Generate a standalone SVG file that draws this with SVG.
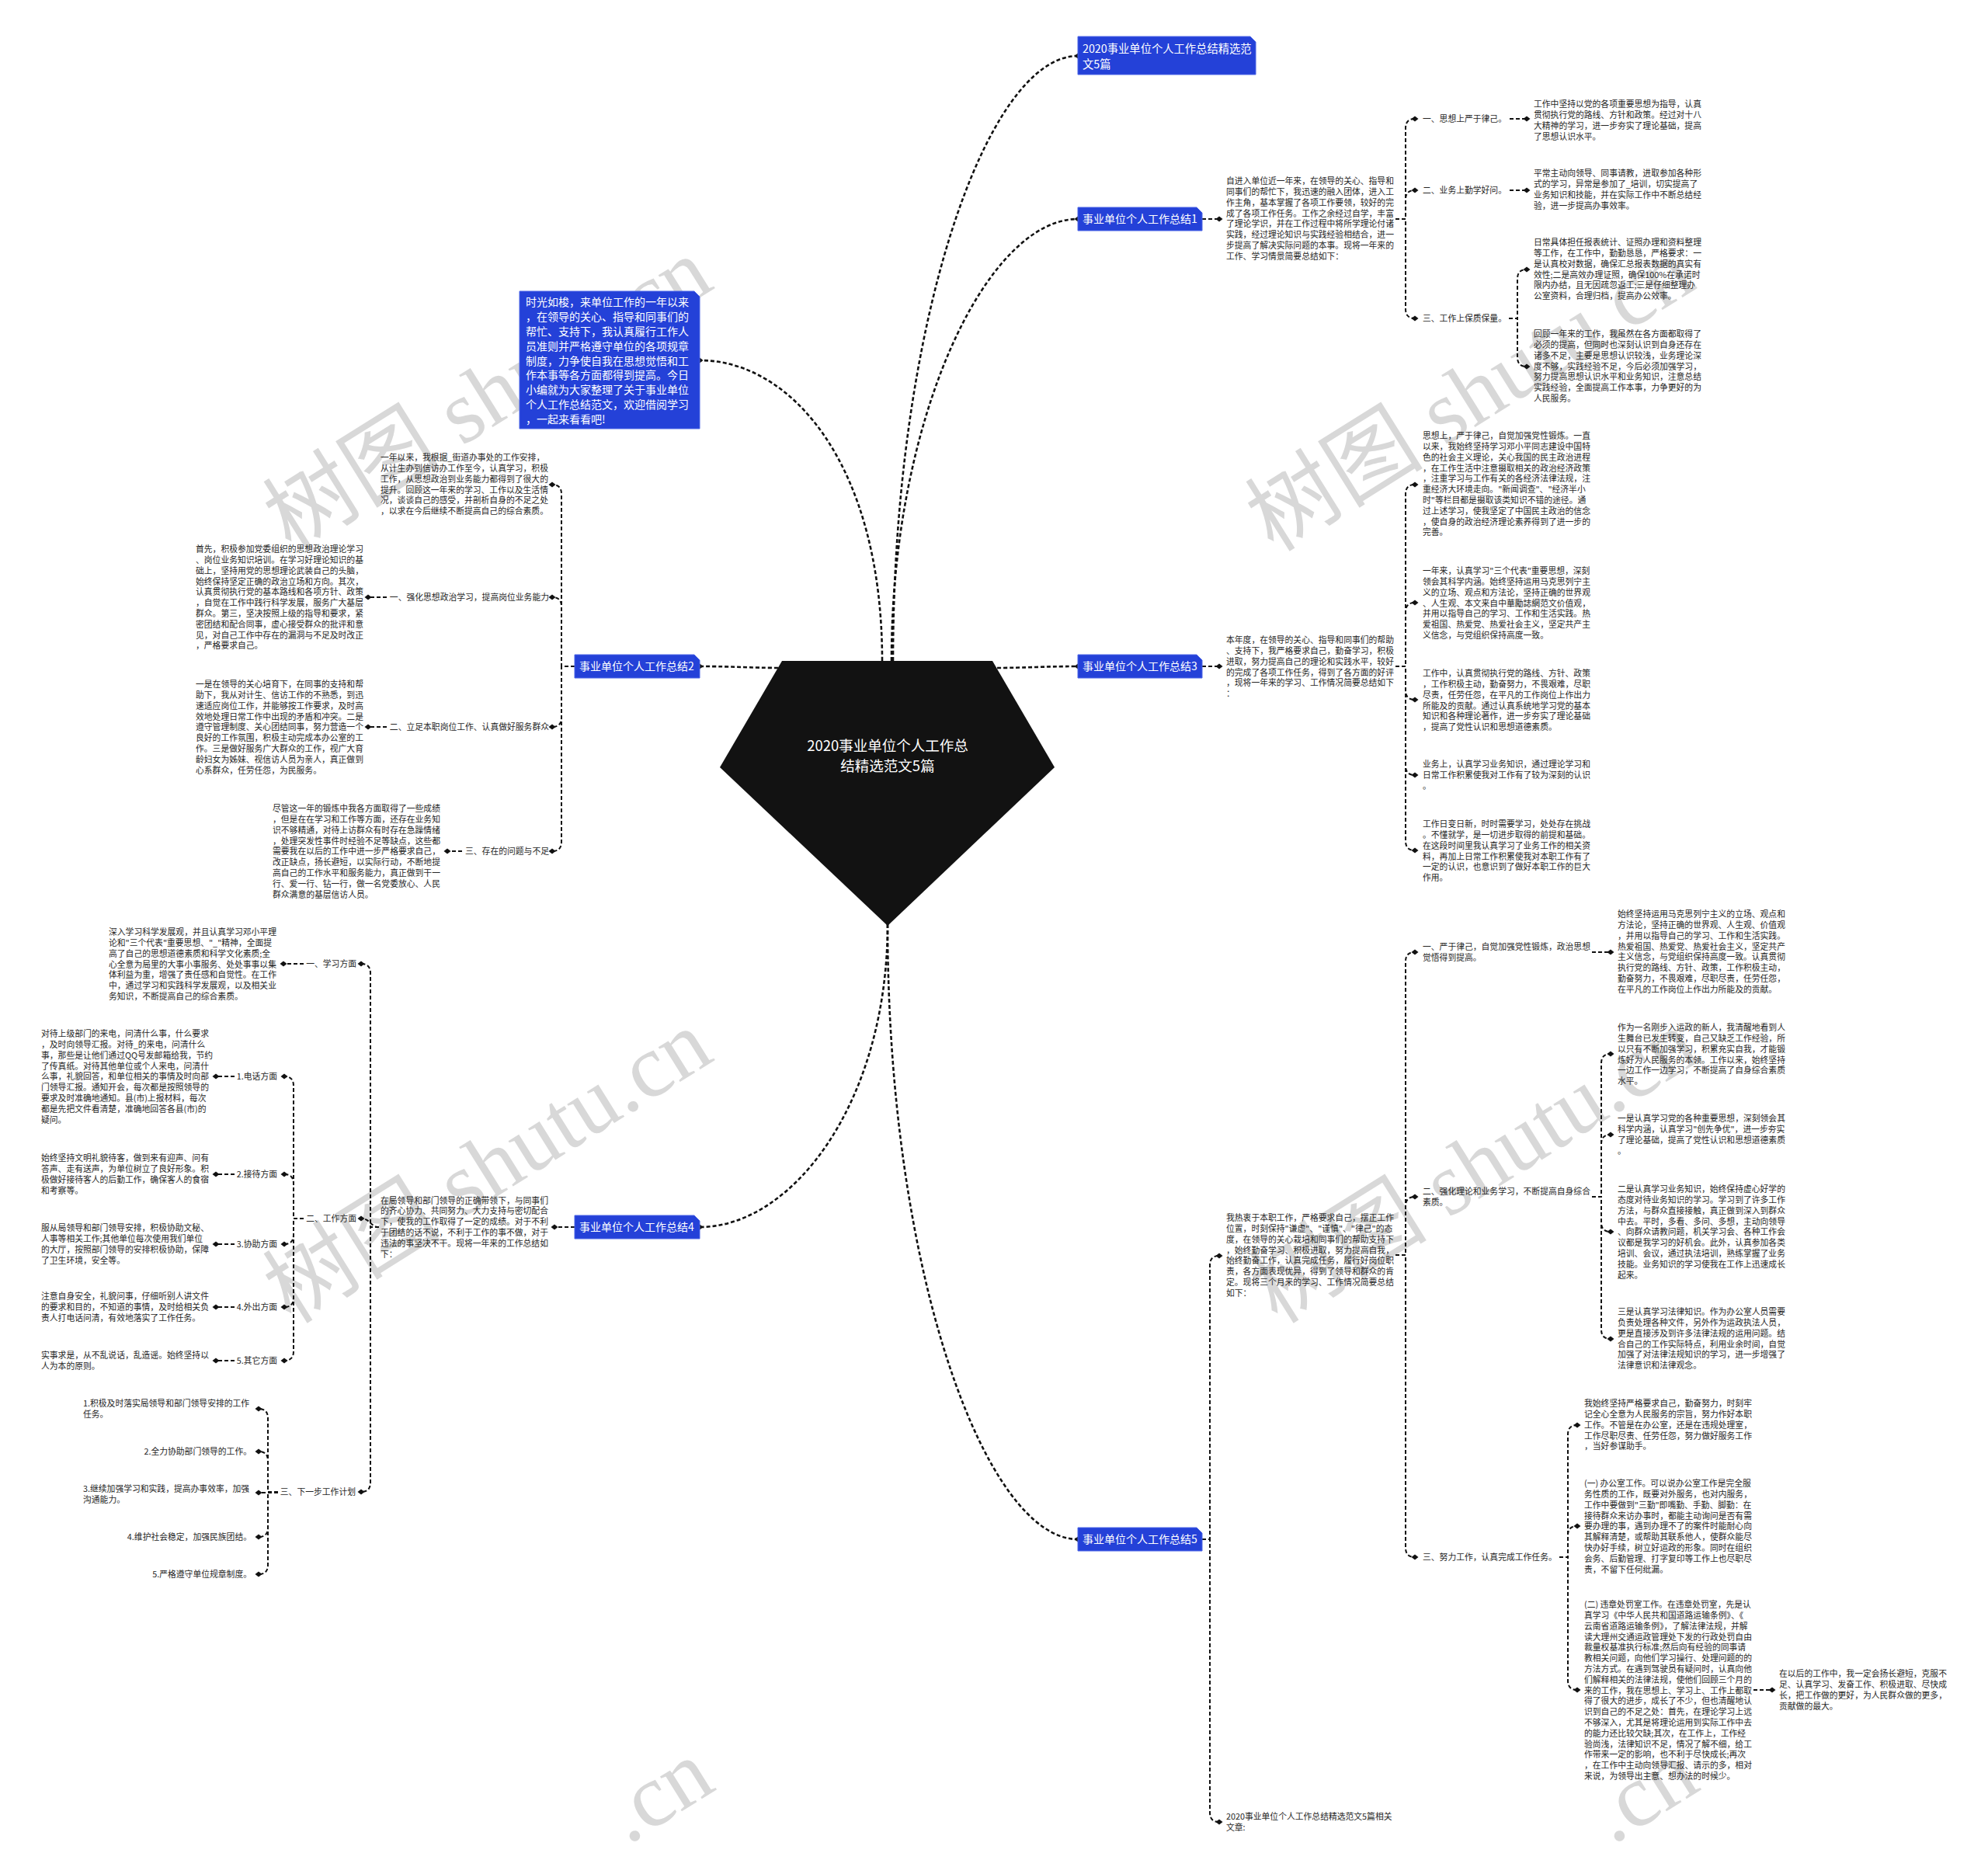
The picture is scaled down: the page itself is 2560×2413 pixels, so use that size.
<svg xmlns="http://www.w3.org/2000/svg" width="2560" height="2413" viewBox="0 0 2560 2413">
<style>
.t{font-family:"Noto Sans CJK SC","Liberation Sans",sans-serif;font-size:10.8px;fill:#262626}
.w{font-family:"Noto Sans CJK SC","Liberation Sans",sans-serif;fill:#ffffff}
.nb{fill:#2441d8;stroke:#4a64e6;stroke-width:1}
.c{fill:none;stroke:#111;stroke-width:2;stroke-dasharray:5 3;marker-end:url(#d)}
.cm{stroke-width:2.6}
.wm{font-family:"Liberation Serif","Noto Sans CJK SC",serif;font-size:115px;fill:#d8d8d8}
</style>
<defs>
<marker id="d" viewBox="-5 -5 10 10" refX="0" refY="0" markerWidth="10" markerHeight="10" markerUnits="userSpaceOnUse" orient="auto"><path d="M-4.5 0 L0 -3.6 L4.5 0 L0 3.6 Z" fill="#111"/></marker>
</defs>
<rect width="2560" height="2413" fill="#ffffff"/>
<g id="watermarks">
<text class="wm" transform="translate(375 712) rotate(-32)">树图 shutu.cn</text>
<text class="wm" transform="translate(1640 712) rotate(-32)">树图 shutu.cn</text>
<text class="wm" transform="translate(375 1706) rotate(-32)">树图 shutu.cn</text>
<text class="wm" transform="translate(1645 1706) rotate(-32)">树图 shutu.cn</text>
<text class="wm" transform="translate(808 2376) rotate(-32)">.cn</text>
<text class="wm" transform="translate(2076 2376) rotate(-32)">.cn</text>
</g>
<g id="connectors">
<path class="c cm" d="M1150 851 C1150 420 1270 72 1388 72"/>
<path class="c cm" d="M1148 851 C1148 540 1270 282 1388 282"/>
<path class="c cm" d="M1136 851 C1136 600 1020 464 901 464"/>
<path class="c cm" d="M1010 860 C960 860 950 858 901 858"/>
<path class="c cm" d="M1276 860 C1326 860 1340 858 1388 858"/>
<path class="c cm" d="M1143 1190 C1143 1420 1020 1580 901 1580"/>
<path class="c cm" d="M1143 1190 C1143 1640 1270 1982 1388 1982"/>
<path class="c" d="M1548 282 H1570"/>
<path class="c" d="M1797 282 H1810 V165 Q1810 153 1822 153"/>
<path class="c" d="M1797 282 H1810 V257 Q1810 245 1822 245"/>
<path class="c" d="M1797 282 H1810 V398 Q1810 410 1822 410"/>
<path class="c" d="M1944 153 H1966"/>
<path class="c" d="M1944 245 H1966"/>
<path class="c" d="M1943 410 H1954 V359 Q1954 347 1966 347"/>
<path class="c" d="M1943 410 H1954 V460 Q1954 472 1966 472"/>
<path class="c" d="M1548 858 H1570"/>
<path class="c" d="M1797 858 H1810 V636 Q1810 624 1822 624"/>
<path class="c" d="M1797 858 H1810 V788 Q1810 776 1822 776"/>
<path class="c" d="M1797 858 H1810 V889 Q1810 901 1822 901"/>
<path class="c" d="M1797 858 H1810 V986 Q1810 998 1822 998"/>
<path class="c" d="M1797 858 H1810 V1083 Q1810 1095 1822 1095"/>
<path class="c" d="M1548 1982 H1558 V1629 Q1558 1617 1570 1617"/>
<path class="c" d="M1548 1982 H1558 V2334 Q1558 2346 1570 2346"/>
<path class="c" d="M1797 1616 H1810 V1238 Q1810 1226 1822 1226"/>
<path class="c" d="M1797 1616 H1810 V1553 Q1810 1541 1822 1541"/>
<path class="c" d="M1797 1616 H1810 V1993 Q1810 2005 1822 2005"/>
<path class="c" d="M2050 1226 H2074"/>
<path class="c" d="M2050 1541 H2062 V1369 Q2062 1357 2074 1357"/>
<path class="c" d="M2050 1541 H2062 V1473 Q2062 1461 2074 1461"/>
<path class="c" d="M2050 1541 H2062 V1574 Q2062 1586 2074 1586"/>
<path class="c" d="M2050 1541 H2062 V1712 Q2062 1724 2074 1724"/>
<path class="c" d="M2008 2005 H2019 V1847 Q2019 1835 2031 1835"/>
<path class="c" d="M2008 2005 H2019 V1977 Q2019 1965 2031 1965"/>
<path class="c" d="M2008 2005 H2019 V2164 Q2019 2176 2031 2176"/>
<path class="c" d="M2258 2176 H2282"/>
<path class="c" d="M740 858 H723 V636 Q723 624 711 624"/>
<path class="c" d="M740 858 H723 V781 Q723 769 711 769"/>
<path class="c" d="M740 858 H723 V924 Q723 936 711 936"/>
<path class="c" d="M740 858 H723 V1084 Q723 1096 711 1096"/>
<path class="c" d="M498 769 H474"/>
<path class="c" d="M498 936 H474"/>
<path class="c" d="M595 1096 H576"/>
<path class="c" d="M740 1580 H714"/>
<path class="c" d="M488 1580 H477 V1253 Q477 1241 465 1241"/>
<path class="c" d="M488 1580 C477 1580 477 1569 465 1569"/>
<path class="c" d="M488 1580 H477 V1909 Q477 1921 465 1921"/>
<path class="c" d="M391 1241 H365"/>
<path class="c" d="M391 1569 H378 V1398 Q378 1386 366 1386"/>
<path class="c" d="M391 1569 H378 V1524 Q378 1512 366 1512"/>
<path class="c" d="M391 1569 H378 V1590 Q378 1602 366 1602"/>
<path class="c" d="M391 1569 H378 V1671 Q378 1683 366 1683"/>
<path class="c" d="M391 1569 H378 V1740 Q378 1752 366 1752"/>
<path class="c" d="M302 1386 H278"/>
<path class="c" d="M302 1512 H278"/>
<path class="c" d="M302 1602 H278"/>
<path class="c" d="M302 1683 H278"/>
<path class="c" d="M302 1752 H278"/>
<path class="c" d="M358 1921 H345 V1826 Q345 1814 333 1814"/>
<path class="c" d="M358 1921 H345 V1881 Q345 1869 333 1869"/>
<path class="c" d="M358 1922 H333"/>
<path class="c" d="M358 1921 H345 V1967 Q345 1979 333 1979"/>
<path class="c" d="M358 1921 H345 V2015 Q345 2027 333 2027"/>
</g>
<g id="root">
<path d="M1007 851 H1278 L1358 988 L1143 1192 L927 988 Z" fill="#121212"/>
<text class="w" font-size="18.5" text-anchor="middle"><tspan x="1143" y="967">2020事业单位个人工作总</tspan><tspan x="1143" y="993">结精选范文5篇</tspan></text>
</g>
<g id="title">
<path class="nb" d="M1388 47 H1610 L1617 54 V96 H1388 Z"/>
<text class="w" font-size="14.3"><tspan x="1394" y="67.5">2020事业单位个人工作总结精选范</tspan><tspan x="1394" y="87.5">文5篇</tspan></text>
</g>
<g id="n1">
<path class="nb" d="M1388 267 H1541 L1548 274 V297 H1388 Z"/>
<text class="w" font-size="14" x="1394" y="287">事业单位个人工作总结1</text>
</g>
<g id="n1-desc"><text class="t" y="237.1"><tspan x="1579">自进入单位近一年来，在领导的关心、指导和</tspan><tspan x="1579" dy="13.8">同事们的帮忙下，我迅速的融入团体，进入工</tspan><tspan x="1579" dy="13.8">作主角，基本掌握了各项工作要领，较好的完</tspan><tspan x="1579" dy="13.8">成了各项工作任务。工作之余经过自学，丰富</tspan><tspan x="1579" dy="13.8">了理论学识，并在工作过程中将所学理论付诸</tspan><tspan x="1579" dy="13.8">实践，经过理论知识与实践经验相结合，进一</tspan><tspan x="1579" dy="13.8">步提高了解决实际问题的本事。现将一年来的</tspan><tspan x="1579" dy="13.8">工作、学习情景简要总结如下：</tspan></text></g>
<g id="n1-l1"><text class="t" x="1832" y="157.1">一、思想上严于律己。</text></g>
<g id="n1-l2"><text class="t" x="1832" y="249.1">二、业务上勤学好问。</text></g>
<g id="n1-l3"><text class="t" x="1832" y="414.1">三、工作上保质保量。</text></g>
<g id="n1-l1-a"><text class="t" y="138.1"><tspan x="1975">工作中坚持以党的各项重要思想为指导，认真</tspan><tspan x="1975" dy="13.8">贯彻执行党的路线、方针和政策。经过对十八</tspan><tspan x="1975" dy="13.8">大精神的学习，进一步夯实了理论基础，提高</tspan><tspan x="1975" dy="13.8">了思想认识水平。</tspan></text></g>
<g id="n1-l2-a"><text class="t" y="227.1"><tspan x="1975">平常主动向领导、同事请教，进取参加各种形</tspan><tspan x="1975" dy="13.8">式的学习，异常是参加了_培训，切实提高了</tspan><tspan x="1975" dy="13.8">业务知识和技能，并在实际工作中不断总结经</tspan><tspan x="1975" dy="13.8">验，进一步提高办事效率。</tspan></text></g>
<g id="n1-l3-a"><text class="t" y="316.1"><tspan x="1975">日常具体担任报表统计、证照办理和资料整理</tspan><tspan x="1975" dy="13.8">等工作，在工作中，勤勤恳恳，严格要求：一</tspan><tspan x="1975" dy="13.8">是认真校对数据，确保汇总报表数据的真实有</tspan><tspan x="1975" dy="13.8">效性;二是高效办理证照，确保100%在承诺时</tspan><tspan x="1975" dy="13.8">限内办结，且无因疏忽返工;三是仔细整理办</tspan><tspan x="1975" dy="13.8">公室资料，合理归档，提高办公效率。</tspan></text></g>
<g id="n1-l3-b"><text class="t" y="434.1"><tspan x="1975">回顾一年来的工作，我虽然在各方面都取得了</tspan><tspan x="1975" dy="13.8">必须的提高，但同时也深刻认识到自身还存在</tspan><tspan x="1975" dy="13.8">诸多不足，主要是思想认识较浅，业务理论深</tspan><tspan x="1975" dy="13.8">度不够，实践经验不足，今后必须加强学习，</tspan><tspan x="1975" dy="13.8">努力提高思想认识水平和业务知识，注意总结</tspan><tspan x="1975" dy="13.8">实践经验，全面提高工作本事，力争更好的为</tspan><tspan x="1975" dy="13.8">人民服务。</tspan></text></g>
<g id="n3">
<path class="nb" d="M1388 843 H1541 L1548 850 V873 H1388 Z"/>
<text class="w" font-size="14" x="1394" y="863">事业单位个人工作总结3</text>
</g>
<g id="n3-desc"><text class="t" y="828.1"><tspan x="1579">本年度，在领导的关心、指导和同事们的帮助</tspan><tspan x="1579" dy="13.8">、支持下，我严格要求自己，勤奋学习，积极</tspan><tspan x="1579" dy="13.8">进取，努力提高自己的理论和实践水平，较好</tspan><tspan x="1579" dy="13.8">的完成了各项工作任务，得到了各方面的好评</tspan><tspan x="1579" dy="13.8">，现将一年来的学习、工作情况简要总结如下</tspan><tspan x="1579" dy="13.8">：</tspan></text></g>
<g id="n3-a"><text class="t" y="565.1"><tspan x="1832">思想上，严于律己，自觉加强党性锻炼。一直</tspan><tspan x="1832" dy="13.8">以来，我始终坚持学习邓小平同志建设中国特</tspan><tspan x="1832" dy="13.8">色的社会主义理论，关心我国的民主政治进程</tspan><tspan x="1832" dy="13.8">，在工作生活中注意摄取相关的政治经济政策</tspan><tspan x="1832" dy="13.8">，注重学习与工作有关的各经济法律法规，注</tspan><tspan x="1832" dy="13.8">重经济大环境走向。"新闻调查"、"经济半小</tspan><tspan x="1832" dy="13.8">时"等栏目都是摄取该类知识不错的途径。通</tspan><tspan x="1832" dy="13.8">过上述学习，使我坚定了中国民主政治的信念</tspan><tspan x="1832" dy="13.8">，使自身的政治经济理论素养得到了进一步的</tspan><tspan x="1832" dy="13.8">完善。</tspan></text></g>
<g id="n3-b"><text class="t" y="739.1"><tspan x="1832">一年来，认真学习"三个代表"重要思想，深刻</tspan><tspan x="1832" dy="13.8">领会其科学内涵。始终坚持运用马克思列宁主</tspan><tspan x="1832" dy="13.8">义的立场、观点和方法论，坚持正确的世界观</tspan><tspan x="1832" dy="13.8">、人生观、本文来自中華勵誌網范文价值观，</tspan><tspan x="1832" dy="13.8">并用以指导自己的学习、工作和生活实践。热</tspan><tspan x="1832" dy="13.8">爱祖国、热爱党、热爱社会主义，坚定共产主</tspan><tspan x="1832" dy="13.8">义信念，与党组织保持高度一致。</tspan></text></g>
<g id="n3-c"><text class="t" y="871.1"><tspan x="1832">工作中，认真贯彻执行党的路线、方针、政策</tspan><tspan x="1832" dy="13.8">，工作积极主动，勤奋努力，不畏艰难，尽职</tspan><tspan x="1832" dy="13.8">尽责，任劳任怨，在平凡的工作岗位上作出力</tspan><tspan x="1832" dy="13.8">所能及的贡献。通过认真系统地学习党的基本</tspan><tspan x="1832" dy="13.8">知识和各种理论著作，进一步夯实了理论基础</tspan><tspan x="1832" dy="13.8">，提高了党性认识和思想道德素质。</tspan></text></g>
<g id="n3-d"><text class="t" y="988.1"><tspan x="1832">业务上，认真学习业务知识，通过理论学习和</tspan><tspan x="1832" dy="13.8">日常工作积累使我对工作有了较为深刻的认识</tspan><tspan x="1832" dy="13.8">。</tspan></text></g>
<g id="n3-e"><text class="t" y="1065.1"><tspan x="1832">工作日变日新，时时需要学习，处处存在挑战</tspan><tspan x="1832" dy="13.8">。不懂就学，是一切进步取得的前提和基础。</tspan><tspan x="1832" dy="13.8">在这段时间里我认真学习了业务工作的相关资</tspan><tspan x="1832" dy="13.8">料，再加上日常工作积累使我对本职工作有了</tspan><tspan x="1832" dy="13.8">一定的认识，也意识到了做好本职工作的巨大</tspan><tspan x="1832" dy="13.8">作用。</tspan></text></g>
<g id="n5">
<path class="nb" d="M1388 1967 H1541 L1548 1974 V1997 H1388 Z"/>
<text class="w" font-size="14" x="1394" y="1987">事业单位个人工作总结5</text>
</g>
<g id="n5-desc"><text class="t" y="1572.1"><tspan x="1579">我热衷于本职工作，严格要求自己，摆正工作</tspan><tspan x="1579" dy="13.8">位置，时刻保持"谦虚"、"谨慎"、"律己"的态</tspan><tspan x="1579" dy="13.8">度，在领导的关心栽培和同事们的帮助支持下</tspan><tspan x="1579" dy="13.8">，始终勤奋学习、积极进取，努力提高自我，</tspan><tspan x="1579" dy="13.8">始终勤奋工作，认真完成任务，履行好岗位职</tspan><tspan x="1579" dy="13.8">责，各方面表现优异，得到了领导和群众的肯</tspan><tspan x="1579" dy="13.8">定。现将三个月来的学习、工作情况简要总结</tspan><tspan x="1579" dy="13.8">如下：</tspan></text></g>
<g id="n5-related"><text class="t" y="2343.1"><tspan x="1579">2020事业单位个人工作总结精选范文5篇相关</tspan><tspan x="1579" dy="13.8">文章:</tspan></text></g>
<g id="n5-l1"><text class="t" y="1223.1"><tspan x="1832">一、严于律己，自觉加强党性锻炼，政治思想</tspan><tspan x="1832" dy="13.8">觉悟得到提高。</tspan></text></g>
<g id="n5-l2"><text class="t" y="1538.1"><tspan x="1832">二、强化理论和业务学习，不断提高自身综合</tspan><tspan x="1832" dy="13.8">素质。</tspan></text></g>
<g id="n5-l3"><text class="t" x="1832" y="2009.1">三、努力工作，认真完成工作任务。</text></g>
<g id="n5-l1-a"><text class="t" y="1181.1"><tspan x="2083">始终坚持运用马克思列宁主义的立场、观点和</tspan><tspan x="2083" dy="13.8">方法论，坚持正确的世界观、人生观、价值观</tspan><tspan x="2083" dy="13.8">，并用以指导自己的学习、工作和生活实践。</tspan><tspan x="2083" dy="13.8">热爱祖国、热爱党、热爱社会主义，坚定共产</tspan><tspan x="2083" dy="13.8">主义信念，与党组织保持高度一致。认真贯彻</tspan><tspan x="2083" dy="13.8">执行党的路线、方针、政策，工作积极主动，</tspan><tspan x="2083" dy="13.8">勤奋努力，不畏艰难，尽职尽责，任劳任怨，</tspan><tspan x="2083" dy="13.8">在平凡的工作岗位上作出力所能及的贡献。</tspan></text></g>
<g id="n5-l2-a"><text class="t" y="1327.1"><tspan x="2083">作为一名刚步入运政的新人，我清醒地看到人</tspan><tspan x="2083" dy="13.8">生舞台已发生转变，自己又缺乏工作经验，所</tspan><tspan x="2083" dy="13.8">以只有不断加强学习，积累充实自我，才能锻</tspan><tspan x="2083" dy="13.8">炼好为人民服务的本领。工作以来，始终坚持</tspan><tspan x="2083" dy="13.8">一边工作一边学习，不断提高了自身综合素质</tspan><tspan x="2083" dy="13.8">水平。</tspan></text></g>
<g id="n5-l2-b"><text class="t" y="1444.1"><tspan x="2083">一是认真学习党的各种重要思想，深刻领会其</tspan><tspan x="2083" dy="13.8">科学内涵，认真学习"创先争优"，进一步夯实</tspan><tspan x="2083" dy="13.8">了理论基础，提高了党性认识和思想道德素质</tspan><tspan x="2083" dy="13.8">。</tspan></text></g>
<g id="n5-l2-c"><text class="t" y="1535.1"><tspan x="2083">二是认真学习业务知识，始终保持虚心好学的</tspan><tspan x="2083" dy="13.8">态度对待业务知识的学习。学习到了许多工作</tspan><tspan x="2083" dy="13.8">方法，与群众直接接触，真正做到深入到群众</tspan><tspan x="2083" dy="13.8">中去。平时，多看、多问、多想，主动向领导</tspan><tspan x="2083" dy="13.8">、向群众请教问题，机关学习会、各种工作会</tspan><tspan x="2083" dy="13.8">议都是我学习的好机会。此外，认真参加各类</tspan><tspan x="2083" dy="13.8">培训、会议，通过执法培训，熟练掌握了业务</tspan><tspan x="2083" dy="13.8">技能。业务知识的学习使我在工作上迅速成长</tspan><tspan x="2083" dy="13.8">起来。</tspan></text></g>
<g id="n5-l2-d"><text class="t" y="1693.1"><tspan x="2083">三是认真学习法律知识。作为办公室人员需要</tspan><tspan x="2083" dy="13.8">负责处理各种文件，另外作为运政执法人员，</tspan><tspan x="2083" dy="13.8">更是直接涉及到许多法律法规的运用问题。结</tspan><tspan x="2083" dy="13.8">合自己的工作实际特点，利用业余时间，自觉</tspan><tspan x="2083" dy="13.8">加强了对法律法规知识的学习，进一步增强了</tspan><tspan x="2083" dy="13.8">法律意识和法律观念。</tspan></text></g>
<g id="n5-l3-a"><text class="t" y="1811.1"><tspan x="2040">我始终坚持严格要求自己，勤奋努力，时刻牢</tspan><tspan x="2040" dy="13.8">记全心全意为人民服务的宗旨，努力作好本职</tspan><tspan x="2040" dy="13.8">工作。不管是在办公室，还是在违规处理室，</tspan><tspan x="2040" dy="13.8">工作尽职尽责、任劳任怨，努力做好服务工作</tspan><tspan x="2040" dy="13.8">，当好参谋助手。</tspan></text></g>
<g id="n5-l3-b"><text class="t" y="1914.1"><tspan x="2040">(一) 办公室工作。可以说办公室工作是完全服</tspan><tspan x="2040" dy="13.8">务性质的工作，既要对外服务，也对内服务，</tspan><tspan x="2040" dy="13.8">工作中要做到"三勤"即嘴勤、手勤、脚勤：在</tspan><tspan x="2040" dy="13.8">接待群众来访办事时，都能主动询问是否有需</tspan><tspan x="2040" dy="13.8">要办理的事，遇到办理不了的案件时能耐心向</tspan><tspan x="2040" dy="13.8">其解释清楚，或帮助其联系他人，使群众能尽</tspan><tspan x="2040" dy="13.8">快办好手续，树立好运政的形象。同时在组织</tspan><tspan x="2040" dy="13.8">会务、后勤管理、打字复印等工作上也尽职尽</tspan><tspan x="2040" dy="13.8">责，不留下任何纰漏。</tspan></text></g>
<g id="n5-l3-c"><text class="t" y="2070.1"><tspan x="2040">(二) 违章处罚室工作。在违章处罚室，先是认</tspan><tspan x="2040" dy="13.8">真学习《中华人民共和国道路运输条例》、《</tspan><tspan x="2040" dy="13.8">云南省道路运输条例》，了解法律法规，并解</tspan><tspan x="2040" dy="13.8">读大理州交通运政管理处下发的行政处罚自由</tspan><tspan x="2040" dy="13.8">裁量权基准执行标准;然后向有经验的同事请</tspan><tspan x="2040" dy="13.8">教相关问题，向他们学习操行、处理问题的的</tspan><tspan x="2040" dy="13.8">方法方式。在遇到驾驶员有疑问时，认真向他</tspan><tspan x="2040" dy="13.8">们解释相关的法律法规，使他们回顾三个月的</tspan><tspan x="2040" dy="13.8">来的工作，我在思想上、学习上、工作上都取</tspan><tspan x="2040" dy="13.8">得了很大的进步，成长了不少，但也清醒地认</tspan><tspan x="2040" dy="13.8">识到自己的不足之处：首先，在理论学习上远</tspan><tspan x="2040" dy="13.8">不够深入，尤其是将理论运用到实际工作中去</tspan><tspan x="2040" dy="13.8">的能力还比较欠缺;其次，在工作上，工作经</tspan><tspan x="2040" dy="13.8">验尚浅，法律知识不足，情况了解不细，给工</tspan><tspan x="2040" dy="13.8">作带来一定的影响，也不利于尽快成长;再次</tspan><tspan x="2040" dy="13.8">，在工作中主动向领导汇报、请示的多，相对</tspan><tspan x="2040" dy="13.8">来说，为领导出主意、想办法的时候少。</tspan></text></g>
<g id="n5-l3-c-a"><text class="t" y="2159.1"><tspan x="2291">在以后的工作中，我一定会扬长避短，克服不</tspan><tspan x="2291" dy="13.8">足、认真学习、发奋工作、积极进取、尽快成</tspan><tspan x="2291" dy="13.8">长，把工作做的更好，为人民群众做的更多，</tspan><tspan x="2291" dy="13.8">贡献做的最大。</tspan></text></g>
<g id="intro">
<path class="nb" d="M669 375 H894 L901 382 V552 H669 Z"/>
<text class="w" font-size="14" y="394.3"><tspan x="677">时光如梭，来单位工作的一年以来</tspan><tspan x="677" dy="18.8">，在领导的关心、指导和同事们的</tspan><tspan x="677" dy="18.8">帮忙、支持下，我认真履行工作人</tspan><tspan x="677" dy="18.8">员准则并严格遵守单位的各项规章</tspan><tspan x="677" dy="18.8">制度，力争使自我在思想觉悟和工</tspan><tspan x="677" dy="18.8">作本事等各方面都得到提高。今日</tspan><tspan x="677" dy="18.8">小编就为大家整理了关于事业单位</tspan><tspan x="677" dy="18.8">个人工作总结范文，欢迎借阅学习</tspan><tspan x="677" dy="18.8">，一起来看看吧!</tspan></text>
</g>
<g id="n2">
<path class="nb" d="M740 843 H894 L901 850 V873 H740 Z"/>
<text class="w" font-size="14" x="746" y="863">事业单位个人工作总结2</text>
</g>
<g id="n2-a"><text class="t" y="593.1"><tspan x="490">一年以来，我根据_街道办事处的工作安排，</tspan><tspan x="490" dy="13.8">从计生办到信访办工作至今，认真学习，积极</tspan><tspan x="490" dy="13.8">工作，从思想政治到业务能力都得到了很大的</tspan><tspan x="490" dy="13.8">提升。回顾这一年来的学习、工作以及生活情</tspan><tspan x="490" dy="13.8">况，谈谈自己的感受，并剖析自身的不足之处</tspan><tspan x="490" dy="13.8">，以求在今后继续不断提高自己的综合素质。</tspan></text></g>
<g id="n2-l1"><text class="t" x="707" y="773.1" text-anchor="end">一、强化思想政治学习，提高岗位业务能力</text></g>
<g id="n2-l2"><text class="t" x="707" y="940.1" text-anchor="end">二、立足本职岗位工作、认真做好服务群众</text></g>
<g id="n2-l3"><text class="t" x="707" y="1100.1" text-anchor="end">三、存在的问题与不足</text></g>
<g id="n2-l1-a"><text class="t" y="711.1"><tspan x="252">首先，积极参加党委组织的思想政治理论学习</tspan><tspan x="252" dy="13.8">、岗位业务知识培训。在学习好理论知识的基</tspan><tspan x="252" dy="13.8">础上，坚持用党的思想理论武装自己的头脑，</tspan><tspan x="252" dy="13.8">始终保持坚定正确的政治立场和方向。其次，</tspan><tspan x="252" dy="13.8">认真贯彻执行党的基本路线和各项方针、政策</tspan><tspan x="252" dy="13.8">，自觉在工作中践行科学发展，服务广大基层</tspan><tspan x="252" dy="13.8">群众。第三，坚决按照上级的指导和要求，紧</tspan><tspan x="252" dy="13.8">密团结和配合同事，虚心接受群众的批评和意</tspan><tspan x="252" dy="13.8">见，对自己工作中存在的漏洞与不足及时改正</tspan><tspan x="252" dy="13.8">，严格要求自己。</tspan></text></g>
<g id="n2-l2-a"><text class="t" y="885.1"><tspan x="252">一是在领导的关心培育下，在同事的支持和帮</tspan><tspan x="252" dy="13.8">助下，我从对计生、信访工作的不熟悉，到迅</tspan><tspan x="252" dy="13.8">速适应岗位工作，并能够按工作要求，及时高</tspan><tspan x="252" dy="13.8">效地处理日常工作中出现的矛盾和冲突。二是</tspan><tspan x="252" dy="13.8">遵守管理制度、关心团结同事，努力营造一个</tspan><tspan x="252" dy="13.8">良好的工作氛围，积极主动完成本办公室的工</tspan><tspan x="252" dy="13.8">作。三是做好服务广大群众的工作，视广大育</tspan><tspan x="252" dy="13.8">龄妇女为姊妹、视信访人员为亲人，真正做到</tspan><tspan x="252" dy="13.8">心系群众，任劳任怨，为民服务。</tspan></text></g>
<g id="n2-l3-a"><text class="t" y="1045.1"><tspan x="351">尽管这一年的锻炼中我各方面取得了一些成绩</tspan><tspan x="351" dy="13.8">，但是在在学习和工作等方面，还存在业务知</tspan><tspan x="351" dy="13.8">识不够精通，对待上访群众有时存在急躁情绪</tspan><tspan x="351" dy="13.8">，处理突发性事件时经验不足等缺点，这些都</tspan><tspan x="351" dy="13.8">需要我在以后的工作中进一步严格要求自己，</tspan><tspan x="351" dy="13.8">改正缺点，扬长避短，以实际行动，不断地提</tspan><tspan x="351" dy="13.8">高自己的工作水平和服务能力，真正做到干一</tspan><tspan x="351" dy="13.8">行、爱一行、钻一行，做一名党委放心、人民</tspan><tspan x="351" dy="13.8">群众满意的基层信访人员。</tspan></text></g>
<g id="n4">
<path class="nb" d="M740 1565 H894 L901 1572 V1595 H740 Z"/>
<text class="w" font-size="14" x="746" y="1585">事业单位个人工作总结4</text>
</g>
<g id="n4-desc"><text class="t" y="1549.6"><tspan x="490">在局领导和部门领导的正确带领下，与同事们</tspan><tspan x="490" dy="13.8">的齐心协力、共同努力、大力支持与密切配合</tspan><tspan x="490" dy="13.8">下，使我的工作取得了一定的成绩。对于不利</tspan><tspan x="490" dy="13.8">于团结的话不说，不利于工作的事不做，对于</tspan><tspan x="490" dy="13.8">违法的事坚决不干。现将一年来的工作总结如</tspan><tspan x="490" dy="13.8">下：</tspan></text></g>
<g id="n4-l1"><text class="t" x="459" y="1245.1" text-anchor="end">一、学习方面</text></g>
<g id="n4-l2"><text class="t" x="459" y="1573.1" text-anchor="end">二、工作方面</text></g>
<g id="n4-l3"><text class="t" x="458" y="1925.1" text-anchor="end">三、下一步工作计划</text></g>
<g id="n4-l1-a"><text class="t" y="1204.1"><tspan x="140">深入学习科学发展观，并且认真学习邓小平理</tspan><tspan x="140" dy="13.8">论和"三个代表"重要思想、"_"精神，全面提</tspan><tspan x="140" dy="13.8">高了自己的思想道德素质和科学文化素质;全</tspan><tspan x="140" dy="13.8">心全意为局里的大事小事服务、处处事事以集</tspan><tspan x="140" dy="13.8">体利益为重，增强了责任感和自觉性。在工作</tspan><tspan x="140" dy="13.8">中，通过学习和实践科学发展观，以及相关业</tspan><tspan x="140" dy="13.8">务知识，不断提高自己的综合素质。</tspan></text></g>
<g id="n4-s1"><text class="t" x="357" y="1390.1" text-anchor="end">1.电话方面</text></g>
<g id="n4-s2"><text class="t" x="357" y="1516.1" text-anchor="end">2.接待方面</text></g>
<g id="n4-s3"><text class="t" x="357" y="1606.1" text-anchor="end">3.协助方面</text></g>
<g id="n4-s4"><text class="t" x="357" y="1687.1" text-anchor="end">4.外出方面</text></g>
<g id="n4-s5"><text class="t" x="357" y="1756.1" text-anchor="end">5.其它方面</text></g>
<g id="n4-s1-a"><text class="t" y="1335.1"><tspan x="53">对待上级部门的来电，问清什么事，什么要求</tspan><tspan x="53" dy="13.8">，及时向领导汇报。对待_的来电，问清什么</tspan><tspan x="53" dy="13.8">事，那些是让他们通过QQ号发邮箱给我，节约</tspan><tspan x="53" dy="13.8">了传真纸。对待其他单位或个人来电，问清什</tspan><tspan x="53" dy="13.8">么事，礼貌回答，和单位相关的事情及时向部</tspan><tspan x="53" dy="13.8">门领导汇报。通知开会，每次都是按照领导的</tspan><tspan x="53" dy="13.8">要求及时准确地通知。县(市)上报材料，每次</tspan><tspan x="53" dy="13.8">都是先把文件看清楚，准确地回答各县(市)的</tspan><tspan x="53" dy="13.8">疑问。</tspan></text></g>
<g id="n4-s2-a"><text class="t" y="1495.1"><tspan x="53">始终坚持文明礼貌待客，做到来有迎声、问有</tspan><tspan x="53" dy="13.8">答声、走有送声，为单位树立了良好形象。积</tspan><tspan x="53" dy="13.8">极做好接待客人的后勤工作，确保客人的食宿</tspan><tspan x="53" dy="13.8">和考察等。</tspan></text></g>
<g id="n4-s3-a"><text class="t" y="1585.1"><tspan x="53">服从局领导和部门领导安排，积极协助文秘、</tspan><tspan x="53" dy="13.8">人事等相关工作;其他单位每次使用我们单位</tspan><tspan x="53" dy="13.8">的大厅，按照部门领导的安排积极协助，保障</tspan><tspan x="53" dy="13.8">了卫生环境，安全等。</tspan></text></g>
<g id="n4-s4-a"><text class="t" y="1673.1"><tspan x="53">注意自身安全，礼貌问事，仔细听别人讲文件</tspan><tspan x="53" dy="13.8">的要求和目的，不知道的事情，及时给相关负</tspan><tspan x="53" dy="13.8">责人打电话问清，有效地落实了工作任务。</tspan></text></g>
<g id="n4-s5-a"><text class="t" y="1749.1"><tspan x="53">实事求是，从不乱说话，乱造谣。始终坚持以</tspan><tspan x="53" dy="13.8">人为本的原则。</tspan></text></g>
<g id="n4-t1"><text class="t" y="1811.1"><tspan x="107">1.积极及时落实局领导和部门领导安排的工作</tspan><tspan x="107" dy="13.8">任务。</tspan></text></g>
<g id="n4-t2"><text class="t" x="324" y="1873.1" text-anchor="end">2.全力协助部门领导的工作。</text></g>
<g id="n4-t3"><text class="t" y="1921.1"><tspan x="107">3.继续加强学习和实践，提高办事效率，加强</tspan><tspan x="107" dy="13.8">沟通能力。</tspan></text></g>
<g id="n4-t4"><text class="t" x="324" y="1983.1" text-anchor="end">4.维护社会稳定，加强民族团结。</text></g>
<g id="n4-t5"><text class="t" x="324" y="2031.1" text-anchor="end">5.严格遵守单位规章制度。</text></g>
</svg>
